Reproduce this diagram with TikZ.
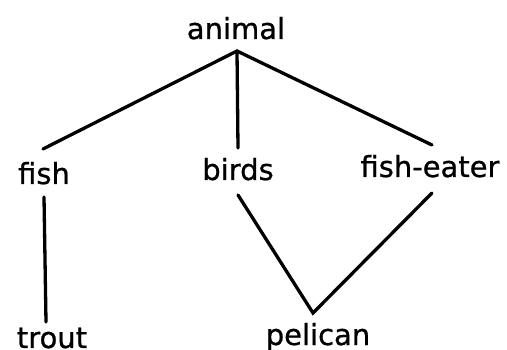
\documentclass[tikz,border=0pt]{standalone}
\usepackage{fontspec}
\newfontfamily\lblfont{DejaVu Sans}[FakeBold=0.8]
\begin{document}
\begin{tikzpicture}[x=1pt,y=-1pt,
  lbl/.style={anchor=base,inner sep=0pt,font=\lblfont\fontsize{29}{31}\selectfont},
  edge/.style={line width=3.3pt,line cap=round,black}]
\useasboundingbox[fill=white] (0,0) rectangle (507,350);
\node[lbl] (animal) at (236,39) {animal};
\node[lbl] (fish) at (44,184) {fish};
\node[lbl] (birds) at (238,180) {birds};
\node[lbl] (fisheater) at (430,177) {fish-eater};
\node[lbl] (trout) at (52,348) {trout};
\node[lbl] (pelican) at (318,345) {pelican};
\coordinate (animal-s) at (237,51);
\coordinate (fish-n) at (43,149);
\coordinate (birds-n) at (238,148);
\coordinate (fisheater-n) at (432,145);
\coordinate (fish-s) at (44,197);
\coordinate (trout-n) at (46,322);
\coordinate (birds-s) at (238,195);
\coordinate (fisheater-s) at (432,193);
\coordinate (pelican-n) at (313,313);
\draw[edge] (fish-n) -- (animal-s) -- (fisheater-n);
\draw[edge] (animal-s) -- (birds-n);
\draw[edge] (fish-s) -- (trout-n);
\draw[edge] (birds-s) -- (pelican-n) -- (fisheater-s);
\end{tikzpicture}
\end{document}
